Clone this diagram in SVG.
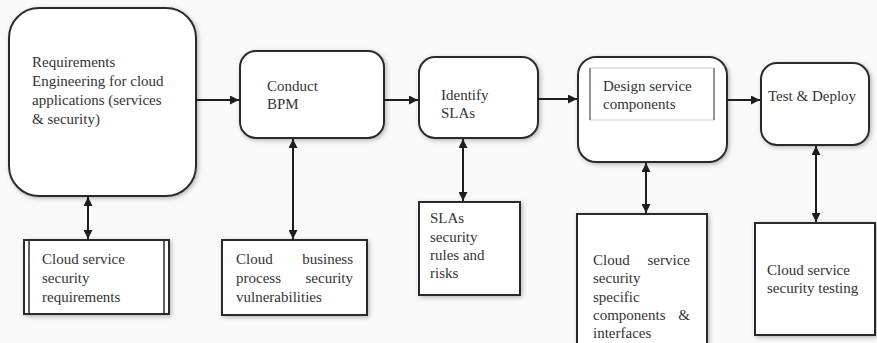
<svg xmlns="http://www.w3.org/2000/svg" width="877" height="343" viewBox="0 0 877 343">
<defs>
<filter id="sh" x="-10%" y="-10%" width="125%" height="125%">
<feDropShadow dx="1.5" dy="1.5" stdDeviation="2" flood-color="#888" flood-opacity="0.6"/>
</filter>
<marker id="ah" viewBox="0 0 10 10" refX="10" refY="5" markerWidth="10" markerHeight="9" markerUnits="userSpaceOnUse" orient="auto-start-reverse">
<path d="M0,0 L10,5 L0,10 z" fill="#1e1e1e"/>
</marker>
<style>
.rb{fill:#fff;stroke:#2a2a2a;stroke-width:2;filter:url(#sh)}
.sb{fill:#fff;stroke:#2a2a2a;stroke-width:2;filter:url(#sh)}
.t{font-family:"Liberation Serif","Times New Roman",serif;font-size:15px;fill:#333}
.c{stroke:#1e1e1e;stroke-width:2;fill:none}
</style>
</defs>
<rect width="877" height="343" fill="#f9f9f9"/>

<g id="n-req">
<rect class="rb" x="9" y="8" width="187" height="188" rx="30"/>
<text class="t" x="32" y="67">Requirements</text>
<text class="t" x="32" y="86">Engineering  for cloud</text>
<text class="t" x="32" y="105">applications (services</text>
<text class="t" x="32" y="124">&amp; security)</text>
</g>
<g id="n-bpm">
<rect class="rb" x="240" y="51" width="144" height="87" rx="16"/>
<text class="t" x="267" y="91">Conduct</text>
<text class="t" x="267" y="109">BPM</text>
</g>
<g id="n-sla">
<rect class="rb" x="419" y="57" width="119" height="81" rx="16"/>
<text class="t" x="441" y="100">Identify</text>
<text class="t" x="441" y="118">SLAs</text>
</g>
<g id="n-design">
<rect class="rb" x="578" y="57" width="149" height="105" rx="18"/>
<rect x="590" y="68" width="124" height="52" fill="none" stroke="#ccc" stroke-width="1"/>
<line x1="590" y1="68" x2="590" y2="120" stroke="#777" stroke-width="1.5"/>
<line x1="714" y1="68" x2="714" y2="120" stroke="#777" stroke-width="1.5"/>
<text class="t" x="603" y="91">Design service</text>
<text class="t" x="603" y="109">components</text>
</g>
<g id="n-test">
<rect class="rb" x="761" y="63" width="108" height="82" rx="16"/>
<text class="t" x="768" y="101">Test &amp; Deploy</text>
</g>

<g id="b-req">
<rect class="sb" x="24" y="240" width="145" height="74"/>
<line x1="29" y1="241" x2="29" y2="313" stroke="#2a2a2a" stroke-width="1.5"/>
<line x1="164" y1="241" x2="164" y2="313" stroke="#2a2a2a" stroke-width="1.5"/>
<text class="t" x="42" y="264">Cloud service</text>
<text class="t" x="42" y="283">security</text>
<text class="t" x="42" y="302">requirements</text>
</g>
<g id="b-bpm">
<rect class="sb" x="222" y="240" width="145" height="75"/>
<text class="t" x="236" y="264">Cloud</text>
<text class="t" x="353" y="264" text-anchor="end">business</text>
<text class="t" x="236" y="283">process</text>
<text class="t" x="353" y="283" text-anchor="end">security</text>
<text class="t" x="236" y="302">vulnerabilities</text>
</g>
<g id="b-sla">
<rect class="sb" x="419" y="202" width="101" height="93"/>
<text class="t" x="430" y="223">SLAs</text>
<text class="t" x="430" y="242">security</text>
<text class="t" x="430" y="260">rules and</text>
<text class="t" x="430" y="278">risks</text>
</g>
<g id="b-design">
<rect class="sb" x="577" y="214" width="130" height="140"/>
<text class="t" x="593" y="265">Cloud</text>
<text class="t" x="690" y="265" text-anchor="end">service</text>
<text class="t" x="593" y="283">security</text>
<text class="t" x="593" y="302">specific</text>
<text class="t" x="593" y="320">components</text>
<text class="t" x="690" y="320" text-anchor="end">&amp;</text>
<text class="t" x="593" y="338">interfaces</text>
</g>
<g id="b-test">
<rect class="sb" x="755" y="223" width="120" height="112"/>
<text class="t" x="767" y="275">Cloud service</text>
<text class="t" x="767" y="293">security testing</text>
</g>

<g id="connectors">
<line class="c" x1="196" y1="100" x2="239" y2="100" marker-end="url(#ah)"/>
<line class="c" x1="384" y1="100" x2="418" y2="100" marker-end="url(#ah)"/>
<line class="c" x1="538" y1="99" x2="577" y2="99" marker-end="url(#ah)"/>
<line class="c" x1="727" y1="100" x2="760" y2="100" marker-end="url(#ah)"/>
<line class="c" x1="88" y1="197" x2="88" y2="239" marker-start="url(#ah)" marker-end="url(#ah)"/>
<line class="c" x1="293" y1="139" x2="293" y2="239" marker-start="url(#ah)" marker-end="url(#ah)"/>
<line class="c" x1="463" y1="139" x2="463" y2="201" marker-start="url(#ah)" marker-end="url(#ah)"/>
<line class="c" x1="646" y1="163" x2="646" y2="213" marker-start="url(#ah)" marker-end="url(#ah)"/>
<line class="c" x1="816" y1="146" x2="816" y2="222" marker-start="url(#ah)" marker-end="url(#ah)"/>
</g>
</svg>
